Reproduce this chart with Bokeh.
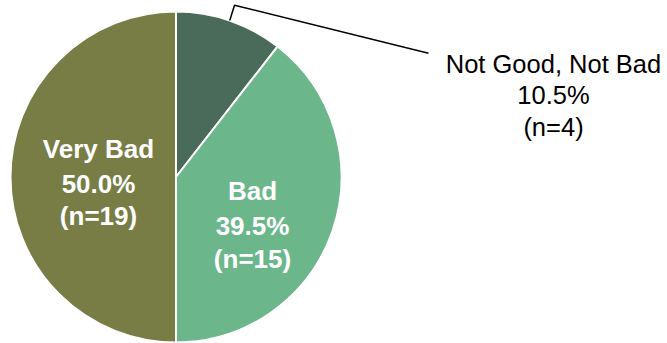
import math
from bokeh.plotting import figure
from bokeh.models import Range1d
from bokeh.core.properties import value
from bokeh.embed import file_html
from bokeh.resources import INLINE

# ---- data ----
categories = ["Not Good, Not Bad", "Bad", "Very Bad"]
counts = [4, 15, 19]
colors = ["#4b6b5a", "#6bb78b", "#777d45"]

total = sum(counts)
pcts = [c / total * 100 for c in counts]

# ---- layout (pixel-like data space, y up) ----
W, H = 667, 343
cx, cy, r = 175.5, H - 176.5, 165.5

p = figure(width=W, height=H, output_backend="svg", toolbar_location=None,
           x_range=Range1d(0, W), y_range=Range1d(0, H),
           min_border=0, outline_line_color=None)
p.axis.visible = False
p.grid.visible = False
p.background_fill_color = "white"
p.border_fill_color = "white"

# wedges, starting at top going clockwise
starts, ends, mids = [], [], []
cum = 0.0
for c in counts:
    a0 = math.pi / 2 - cum / total * 2 * math.pi
    cum += c
    a1 = math.pi / 2 - cum / total * 2 * math.pi
    starts.append(a0)
    ends.append(a1)
    mids.append((a0 + a1) / 2)

p.wedge(x=[cx] * 3, y=[cy] * 3, radius=r, start_angle=starts, end_angle=ends,
        direction="clock", fill_color=colors, line_color="white", line_width=2)

def Y(img_y):
    return H - img_y

# leader line for the small slice
m = mids[0]
ex, ey = cx + r * math.cos(m), cy + r * math.sin(m)
p.line(x=[ex, 234, 428], y=[ey, Y(4.7), Y(52.7)], line_color="black", line_width=1.5)

font = value("Liberation Sans")

def lines_for(i):
    return [categories[i], f"{pcts[i]:.1f}%", f"(n={counts[i]})"]

# outside label (slice 0)
p.text(x=[553] * 3, y=[Y(63), Y(94.5), Y(126)], text=lines_for(0),
       text_font=font, text_font_size="25.5px", text_color="black",
       text_align="center", text_baseline="middle")

# inside labels
p.text(x=[252] * 3, y=[Y(190), Y(225), Y(258)], text=lines_for(1),
       text_font=font, text_font_size="26px", text_font_style="bold",
       text_color="white", text_align="center", text_baseline="middle")
p.text(x=[98] * 3, y=[Y(148.5), Y(183.5), Y(215.5)], text=lines_for(2),
       text_font=font, text_font_size="26px", text_font_style="bold",
       text_color="white", text_align="center", text_baseline="middle")

open("out.html", "w").write(file_html(p, INLINE))
